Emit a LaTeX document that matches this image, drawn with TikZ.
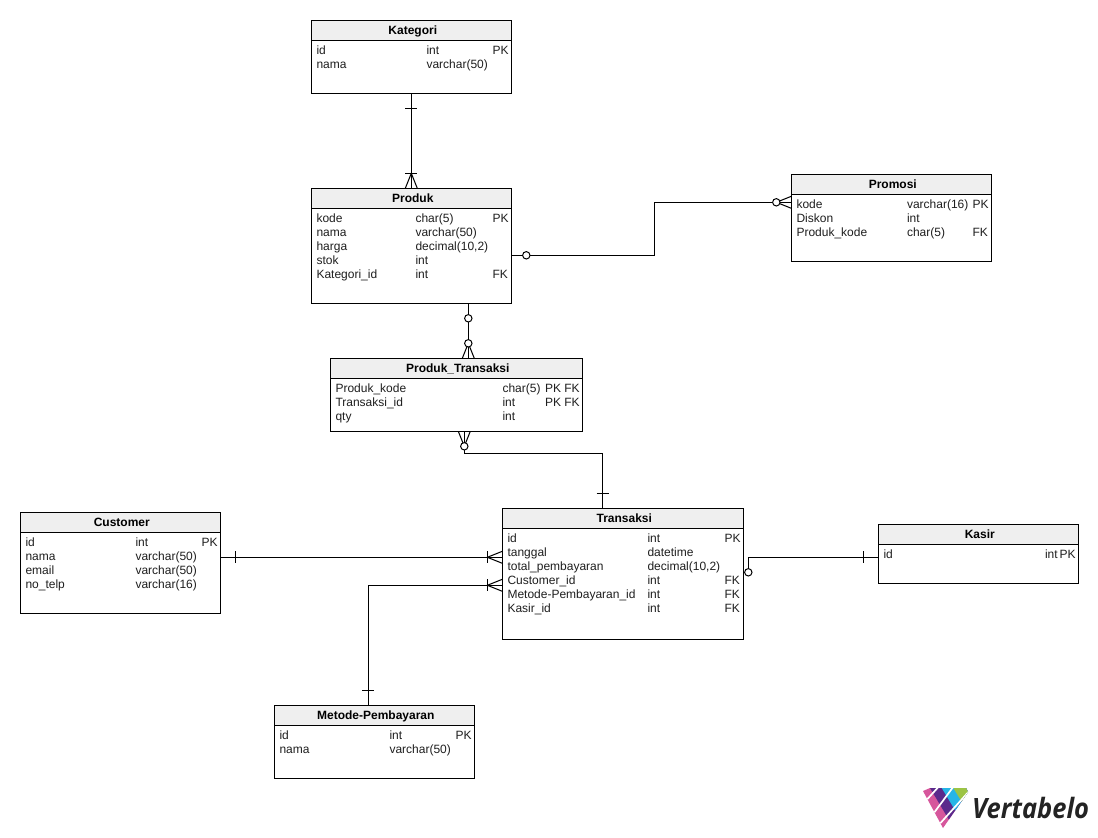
\documentclass[tikz,border=0pt]{standalone}
\usepackage{fontspec}
\usepackage{graphicx}
\setmainfont{Liberation Sans}
\newfontfamily\logofont{Open Sans}
\usetikzlibrary{calc}
\definecolor{headgray}{HTML}{EFEFEF}
\definecolor{lpink}{HTML}{D6569C}
\definecolor{lpurple}{HTML}{5B2A8C}
\definecolor{lblue}{HTML}{27B5E6}
\definecolor{lgreen}{HTML}{9CC444}
\definecolor{ldark}{HTML}{232323}
\tikzset{
  x=1pt,y=-1pt,
  tablebox/.style={draw=black,line width=1pt,rectangle,inner sep=0pt,outer sep=0pt,anchor=north west},
  headbox/.style={draw=black,fill=headgray,line width=1pt,rectangle,inner sep=0pt,outer sep=0pt,anchor=north west,text height=9pt,text depth=0.6pt,font=\fontsize{12}{14}\selectfont\bfseries},
  rowtext/.style={inner sep=0pt,outer sep=0pt,anchor=base west,yshift=-0.3pt,font=\fontsize{12}{14}\selectfont,text=black!88},
  link/.style={draw=black,line width=1pt},
  ring/.style={draw=black,fill=white,line width=1pt},
}
% name, x, y, width, height, title
\newcommand{\ertable}[6]{%
  \node[tablebox,minimum width=#4pt,minimum height=#5pt] (#1) at (#2,#3) {};
  \node[headbox,minimum width=#4pt,minimum height=20pt] (#1-head) at (#2,#3) {\hspace*{3pt}#6};
}
% name, x, baseline y, text
\newcommand{\errow}[4]{\node[rowtext] (#1) at (#2,#3) {\strut#4};}
\begin{document}
\begin{tikzpicture}
\useasboundingbox (0,0) rectangle (1098,838);
\fill[white] (0,0) rectangle (1098,838);

\ertable{kategori}{311.3}{20.3}{200}{73}{Kategori}
\ertable{produk}{311.3}{188.3}{200}{115}{Produk}
\ertable{promosi}{791.3}{174.3}{200}{87}{Promosi}
\ertable{pt}{330.3}{358.3}{252}{73}{Produk\_Transaksi}
\ertable{transaksi}{502.3}{508.3}{241}{131}{Transaksi}
\ertable{customer}{20.3}{512.3}{200}{101}{Customer}
\ertable{kasir}{878.3}{524.3}{200}{59}{Kasir}
\ertable{metode}{274.3}{705.3}{200}{73}{Metode-Pembayaran}

% Kategori -- Produk
\draw[link] (kategori.south) -- (produk.north);
\draw[link] ($(kategori.south)+(-6,15)$) -- +(12,0);
\draw[link] ($(produk.north)+(-6,-15)$) -- +(12,0);
\draw[link] ($(produk.north)+(-6,0)$) -- ($(produk.north)+(0,-15)$) -- ($(produk.north)+(6,0)$);

% Produk -- Promosi
\coordinate (pp-s) at ($(produk.south east)+(0,-48)$);
\coordinate (pp-e) at ($(promosi.north west)+(0,28)$);
\draw[link] (pp-s) -- (pp-s -| 654.3,0) -- (654.3,0 |- pp-e) -- (pp-e);
\draw[link] ($(pp-e)+(0,-6)$) -- ($(pp-e)+(-15,0)$) -- ($(pp-e)+(0,6)$);
\draw[ring] ($(pp-s)+(15,0)$) circle (3.7);
\draw[ring] ($(pp-e)+(-15,0)$) circle (3.7);

% Produk -- Produk_Transaksi
\coordinate (ppt-s) at ($(produk.south east)+(-43,0)$);
\coordinate (ppt-e) at ($(pt.north west)+(138,0)$);
\draw[link] (ppt-s) -- (ppt-e);
\draw[link] ($(ppt-e)+(-6,0)$) -- ($(ppt-e)+(0,-15)$) -- ($(ppt-e)+(6,0)$);
\draw[ring] ($(ppt-s)+(0,15)$) circle (3.7);
\draw[ring] ($(ppt-e)+(0,-15)$) circle (3.7);

% Produk_Transaksi -- Transaksi
\coordinate (ptt-s) at ($(pt.south west)+(134,0)$);
\coordinate (ptt-e) at ($(transaksi.north west)+(100.4,0)$);
\draw[link] (ptt-s) -- ($(ptt-s)+(0,22)$) -| (ptt-e);
\draw[link] ($(ptt-s)+(-6,0)$) -- ($(ptt-s)+(0,15)$) -- ($(ptt-s)+(6,0)$);
\draw[ring] ($(ptt-s)+(0,15)$) circle (3.7);
\draw[link] ($(ptt-e)+(-6,-15)$) -- +(12,0);

% Customer -- Transaksi
\coordinate (ct-s) at ($(customer.north east)+(0,45)$);
\coordinate (ct-e) at ($(transaksi.north west)+(0,49)$);
\draw[link] (ct-s) -- (ct-e);
\draw[link] ($(ct-s)+(15,-6)$) -- +(0,12);
\draw[link] ($(ct-e)+(-15,-6)$) -- +(0,12);
\draw[link] ($(ct-e)+(0,-6)$) -- ($(ct-e)+(-15,0)$) -- ($(ct-e)+(0,6)$);

% Metode -- Transaksi
\coordinate (mt-s) at ($(metode.north west)+(94,0)$);
\coordinate (mt-e) at ($(transaksi.north west)+(0,77)$);
\draw[link] (mt-s) |- (mt-e);
\draw[link] ($(mt-s)+(-6,-15)$) -- +(12,0);
\draw[link] ($(mt-e)+(-15,-6)$) -- +(0,12);
\draw[link] ($(mt-e)+(0,-6)$) -- ($(mt-e)+(-15,0)$) -- ($(mt-e)+(0,6)$);

% Kasir -- Transaksi
\coordinate (kt-s) at ($(kasir.north west)+(0,33)$);
\coordinate (kt-e) at ($(transaksi.north east)+(0,64)$);
\draw[link] (kt-s) -| ($(kt-e)+(5,0)$);
\draw[link] ($(kt-s)+(-15,-6)$) -- +(0,12);
\draw[link] (kt-e) -- ($(kt-e)+(5,0)$);
\draw[ring] ($(kt-e)+(5,0)$) circle (3.7);

% ---------- rows ----------
\errow{kategori-1a}{316.5}{54}{id}\errow{kategori-1b}{426.5}{54}{int}\errow{kategori-1c}{492.5}{54}{PK}
\errow{kategori-2a}{316.5}{68}{nama}\errow{kategori-2b}{426.5}{68}{varchar(50)}

\errow{produk-1a}{316.5}{222}{kode}\errow{produk-1b}{415.5}{222}{char(5)}\errow{produk-1c}{492.5}{222}{PK}
\errow{produk-2a}{316.5}{236}{nama}\errow{produk-2b}{415.5}{236}{varchar(50)}
\errow{produk-3a}{316.5}{250}{harga}\errow{produk-3b}{415.5}{250}{decimal(10,2)}
\errow{produk-4a}{316.5}{264}{stok}\errow{produk-4b}{415.5}{264}{int}
\errow{produk-5a}{316.5}{278}{Kategori\_id}\errow{produk-5b}{415.5}{278}{int}\errow{produk-5c}{492.5}{278}{FK}

\errow{promosi-1a}{796.5}{208}{kode}\errow{promosi-1b}{907}{208}{varchar(16)}\errow{promosi-1c}{972.5}{208}{PK}
\errow{promosi-2a}{796.5}{222}{Diskon}\errow{promosi-2b}{907}{222}{int}
\errow{promosi-3a}{796.5}{236}{Produk\_kode}\errow{promosi-3b}{907}{236}{char(5)}\errow{promosi-3c}{972.5}{236}{FK}

\errow{pt-1a}{335.5}{392}{Produk\_kode}\errow{pt-1b}{502.5}{392}{char(5)}\errow{pt-1c}{545}{392}{PK FK}
\errow{pt-2a}{335.5}{406}{Transaksi\_id}\errow{pt-2b}{502.5}{406}{int}\errow{pt-2c}{545}{406}{PK FK}
\errow{pt-3a}{335.5}{420}{qty}\errow{pt-3b}{502.5}{420}{int}

\errow{transaksi-1a}{507.5}{542}{id}\errow{transaksi-1b}{647.5}{542}{int}\errow{transaksi-1c}{724.5}{542}{PK}
\errow{transaksi-2a}{507.5}{556}{tanggal}\errow{transaksi-2b}{647.5}{556}{datetime}
\errow{transaksi-3a}{507.5}{570}{total\_pembayaran}\errow{transaksi-3b}{647.5}{570}{decimal(10,2)}
\errow{transaksi-4a}{507.5}{584}{Customer\_id}\errow{transaksi-4b}{647.5}{584}{int}\errow{transaksi-4c}{724.5}{584}{FK}
\errow{transaksi-5a}{507.5}{598}{Metode-Pembayaran\_id}\errow{transaksi-5b}{647.5}{598}{int}\errow{transaksi-5c}{724.5}{598}{FK}
\errow{transaksi-6a}{507.5}{612}{Kasir\_id}\errow{transaksi-6b}{647.5}{612}{int}\errow{transaksi-6c}{724.5}{612}{FK}

\errow{customer-1a}{25.5}{546}{id}\errow{customer-1b}{135.5}{546}{int}\errow{customer-1c}{201.5}{546}{PK}
\errow{customer-2a}{25.5}{560}{nama}\errow{customer-2b}{135.5}{560}{varchar(50)}
\errow{customer-3a}{25.5}{574}{email}\errow{customer-3b}{135.5}{574}{varchar(50)}
\errow{customer-4a}{25.5}{588}{no\_telp}\errow{customer-4b}{135.5}{588}{varchar(16)}

\errow{kasir-1a}{883.5}{558}{id}\errow{kasir-1b}{1045}{558}{int}\errow{kasir-1c}{1059.5}{558}{PK}

\errow{metode-1a}{279.5}{739}{id}\errow{metode-1b}{389.5}{739}{int}\errow{metode-1c}{455.5}{739}{PK}
\errow{metode-2a}{279.5}{753}{nama}\errow{metode-2b}{389.5}{753}{varchar(50)}

% ---------- logo ----------
\begin{scope}
\clip (923,791) -- (930,788) -- (966,788) -- (968,792) -- (943,828) -- cycle;
\fill[lpink] (915,780) rectangle (975,835);
\fill[lpurple] (930,788) -- (935,780) -- (990,780) -- (990,835) -- (958,835) -- cycle;
\fill[lblue] (941.7,788) -- (946,780) -- (990,780) -- (990,835) -- (970,835) -- cycle;
\fill[lgreen] (953.3,788) -- (958,780) -- (990,780) -- (990,835) -- (982,835) -- cycle;
\draw[white,line width=1.7pt] (922,805) -- (942,783);
\draw[white,line width=1.7pt] (929,819.5) -- (955,784.5);
\draw[white,line width=1.7pt] (936,828) -- (972,788);
\end{scope}
\node[anchor=base west,inner sep=0,text=ldark,font=\logofont\fontsize{28}{30}\selectfont\bfseries\itshape] (logo) at (972,818) {\scalebox{0.91}[1]{Vertabelo}};
\end{tikzpicture}
\end{document}
